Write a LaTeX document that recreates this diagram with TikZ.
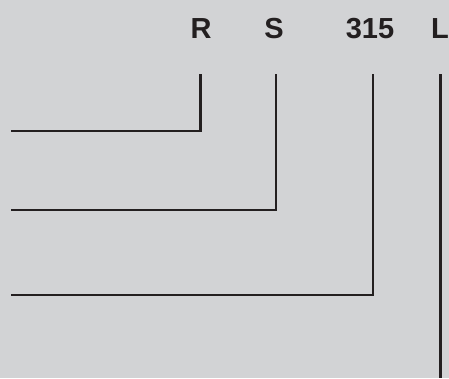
\documentclass[tikz,border=0pt]{standalone}
\usepackage{fontspec}
\setmainfont{Liberation Sans}
\definecolor{panelgray}{HTML}{D2D3D5}
\definecolor{inkdark}{HTML}{231F20}
\tikzset{
	code/.style={font=\fontsize{29}{32}\selectfont\bfseries, text=inkdark, anchor=base, inner sep=0pt},
	lead/.style={draw=inkdark, line width=2.4pt, line join=miter}
}

\begin{document}
\begin{tikzpicture}[x=1pt, y=-1pt]
	\fill[panelgray] (0,0) rectangle (449,378);
	\useasboundingbox (0,0) rectangle (449,378);

	\node[code] (R) at (201,38.5) {R};
	\node[code] (S) at (274,38.5) {S};
	\node[code] (N) at (370,38.5) {315};
	\node[code] (L) at (440,38.5) {L};

	\coordinate (Rtop) at (200.5,74);
	\coordinate (Stop) at (275.8,74);
	\coordinate (Ntop) at (373,74);
	\coordinate (Ltop) at (440.5,74);

	\coordinate (Rend) at (11,131);
	\coordinate (Send) at (11,210);
	\coordinate (Nend) at (11,295);
	\coordinate (Lend) at (440.5,378);

	\draw[lead] (Rend) -| (Rtop);
	\draw[lead] (Send) -| (Stop);
	\draw[lead] (Nend) -| (Ntop);
	\draw[lead] (Ltop) -- (Lend);

\end{tikzpicture}
\end{document}
